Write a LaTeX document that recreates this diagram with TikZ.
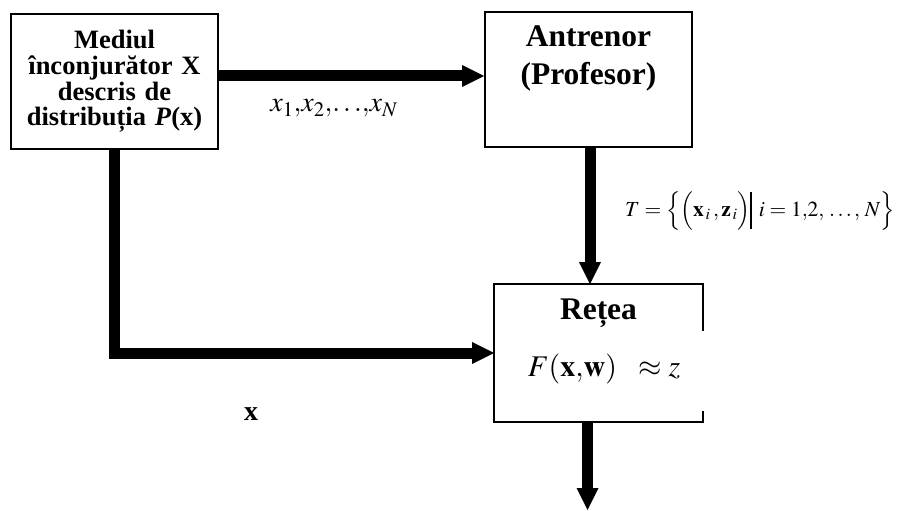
\documentclass[tikz,border=0pt]{standalone}
\usepackage{mathptmx}
\usepackage[no-math]{fontspec}
\setmainfont{Liberation Serif}
\usetikzlibrary{arrows.meta, positioning}

\begin{document}
\begin{tikzpicture}[x=1pt, y=1pt,
  bloc/.style={rectangle, draw, line width=1.8pt, minimum width=207pt, minimum height=135pt, inner sep=0pt},
  sageata/.style={line width=11pt, -{Triangle[length=22pt, width=22pt, line width=0pt]}},
  titlu/.style={font=\fontsize{31.5}{38}\selectfont\bfseries, align=center, inner sep=0pt},
  eticheta/.style={font=\fontsize{28}{30}\selectfont, inner sep=0pt}
]
\useasboundingbox (0,0) rectangle (903,-511);

\node[bloc, text width=200pt, align=center, font=\fontsize{26.5}{25.6}\selectfont\bfseries] (mediu) at (114.5,-81.5)
  {Mediul\\ înconjurător X\\ descris de\\ distribuția \textit{P}(x)};
\node[bloc] (antrenor) at (588.5,-79.5) {};
\node[bloc, draw=none, minimum height=136pt] (retea) at (598.5,-353) {};

\node[titlu, below=14pt of antrenor.north] (antrenortxt) {Antrenor\\(Profesor)};
\node[titlu, below=15pt of retea.north] (reteatxt) {Rețea};
\node[eticheta, font=\fontsize{30}{32}\selectfont, anchor=base] (functie) at ([xshift=5.5pt, yshift=-92pt]retea.north)
  {$F(\mathbf{x}{,}\mathbf{w})\ \ \approx z$};

% conturul retelei, deschis pe dreapta
\draw[line width=1.8pt] ([yshift=-47pt]retea.north east) -- (retea.north east) -- (retea.north west)
  -- (retea.south west) -- (retea.south east) -- ([yshift=11pt]retea.south east);

\coordinate (c1) at ([yshift=5.5pt]mediu.east);
\coordinate (c2) at ([xshift=1.5pt]antrenor.south);
\coordinate (c3) at ([xshift=-11pt]retea.south);
\coordinate (iesire) at (c3 |- 0,-510);

\draw[sageata] (c1) -- (c1 -| antrenor.west);
\draw[sageata] (c2) -- (c2 |- retea.north);
\draw[sageata] (mediu.south) |- (retea.west);
\draw[sageata] (c3) -- (iesire);

\node[eticheta, anchor=base] (secventa) at (334,-112) {$x_1{,}x_2{,}{\ldots}{,}x_N$};
\node[eticheta, font=\fontsize{21.5}{23}\selectfont, anchor=base] (setantrenare) at (760,-216)
  {$T = \Big\{\Big(\mathbf{x}_{\,i}\,{,}\,\mathbf{z}_{\,i}\Big)\rule[-0.6em]{0.055em}{1.7em}\;\, i = 1{,}2{,}\,\ldots{,}\;N\Big\}$};
\node[eticheta, font=\fontsize{28}{30}\selectfont\bfseries, anchor=base] (intrare) at (251,-420) {x};
\end{tikzpicture}
\end{document}
